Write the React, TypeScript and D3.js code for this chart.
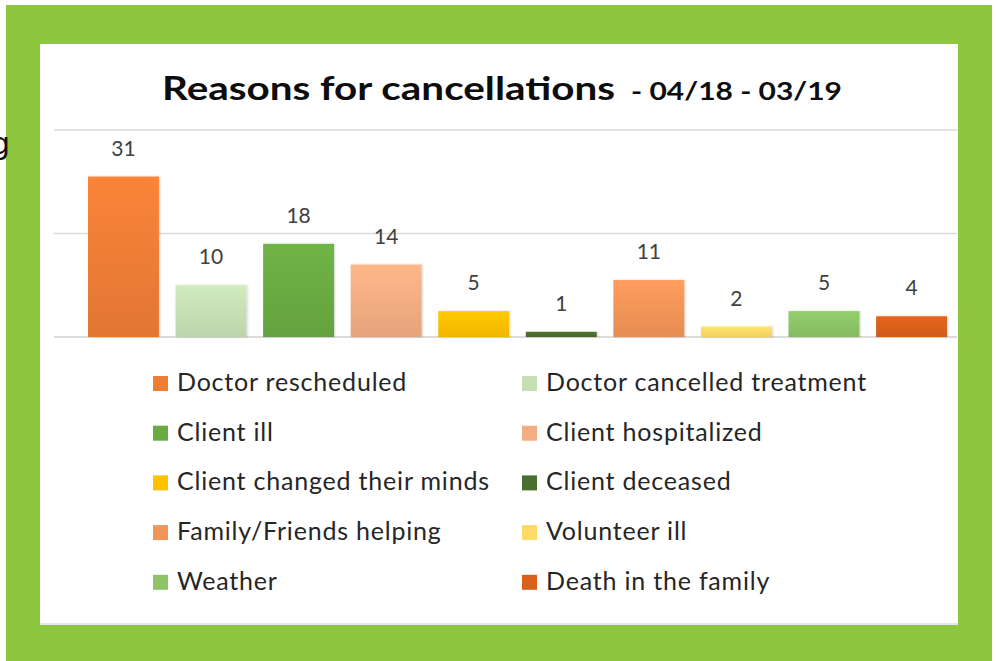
import React from "react";
import * as d3 from "d3";

const categories = [
  "Doctor rescheduled",
  "Doctor cancelled treatment",
  "Client ill",
  "Client hospitalized",
  "Client changed their minds",
  "Client deceased",
  "Family/Friends helping",
  "Volunteer ill",
  "Weather",
  "Death in the family",
];
const values = [31, 10, 18, 14, 5, 1, 11, 2, 5, 4];
const colors = [
  "#ee7d36",
  "#c6e0b4",
  "#6aab42",
  "#f2ad82",
  "#ffc000",
  "#4a6e2f",
  "#f29558",
  "#ffd966",
  "#8cc466",
  "#d9601c",
];
const gridTicks = [0, 20, 40];
const titleMain = "Reasons for cancellations";
const titleSub = "- 04/18 - 03/19";

const W = 997;
const H = 661;
const FONT = "Lato, 'Open Sans', sans-serif";

export default function App() {
  const y = d3.scaleLinear().domain([0, 40]).range([337, 130]);
  const x = d3
    .scaleBand<string>()
    .domain(categories)
    .range([88, 947])
    .paddingInner(0.19)
    .paddingOuter(0);

  const legendCols = [153, 522];
  const legendRow0 = 391;
  const legendStep = 49.7;

  return (
    <svg
      width={W}
      height={H}
      style={{ position: "absolute", left: 0, top: 0, display: "block" }}
    >
      <defs>
        {colors.map((c, i) => (
          <linearGradient key={i} id={`g${i}`} x1="0" y1="0" x2="0" y2="1">
            <stop offset="0" stopColor={d3.color(c)!.brighter(0.15).formatHex()} />
            <stop offset="1" stopColor={d3.color(c)!.darker(0.15).formatHex()} />
          </linearGradient>
        ))}
        <filter id="sh" x="-10%" y="-10%" width="130%" height="130%">
          <feDropShadow dx="1" dy="0" stdDeviation="1.2" floodColor="#000" floodOpacity="0.18" />
        </filter>
      </defs>
      <rect x={0} y={0} width={W} height={H} fill="#ffffff" />
      <rect x={6} y={5} width={986} height={656} fill="#8dc63f" />
      <rect x={40} y={44} width={918} height={581} fill="#ffffff" />
      <rect x={40} y={623} width={918} height={2} fill="#e6e6e6" />
      <text x={-9} y={154} fontFamily="'DejaVu Sans', sans-serif" fontSize={30} fill="#111">
        g
      </text>

      <text
        x={162}
        y={100}
        fontFamily={FONT}
        fontWeight={700}
        fontSize={33}
        fill="#0d0d0d"
        textLength={453}
        lengthAdjust="spacingAndGlyphs"
      >
        {titleMain}
      </text>
      <text
        x={631}
        y={100}
        fontFamily={FONT}
        fontWeight={700}
        fontSize={25}
        fill="#0d0d0d"
        textLength={211}
        lengthAdjust="spacingAndGlyphs"
      >
        {titleSub}
      </text>

      {gridTicks.map((t) => (
        <line
          key={t}
          x1={54}
          x2={957}
          y1={y(t)}
          y2={y(t)}
          stroke={t === 0 ? "#cfcfcf" : "#d9d9d9"}
          strokeWidth={1.3}
        />
      ))}

      {categories.map((c, i) => (
        <g key={c}>
          <rect
            x={x(c)}
            y={y(values[i])}
            width={x.bandwidth()}
            height={y(0) - y(values[i])}
            fill={`url(#g${i})`}
            filter="url(#sh)"
          />
          <text
            x={(x(c) as number) + x.bandwidth() / 2}
            y={y(values[i]) - 21}
            textAnchor="middle"
            fontFamily={FONT}
            fontSize={21}
            fill="#404040"
          >
            {values[i]}
          </text>
        </g>
      ))}

      {categories.map((c, i) => {
        const col = i % 2;
        const row = Math.floor(i / 2);
        const lx = legendCols[col];
        const ly = legendRow0 + row * legendStep;
        return (
          <g key={`l${c}`}>
            <rect x={lx} y={ly - 15} width={15} height={15} fill={colors[i]} />
            <text
              x={lx + 24}
              y={ly}
              fontFamily={FONT}
              fontSize={25}
              fill="#262626"
              letterSpacing={0.8}
            >
              {c}
            </text>
          </g>
        );
      })}
    </svg>
  );
}
